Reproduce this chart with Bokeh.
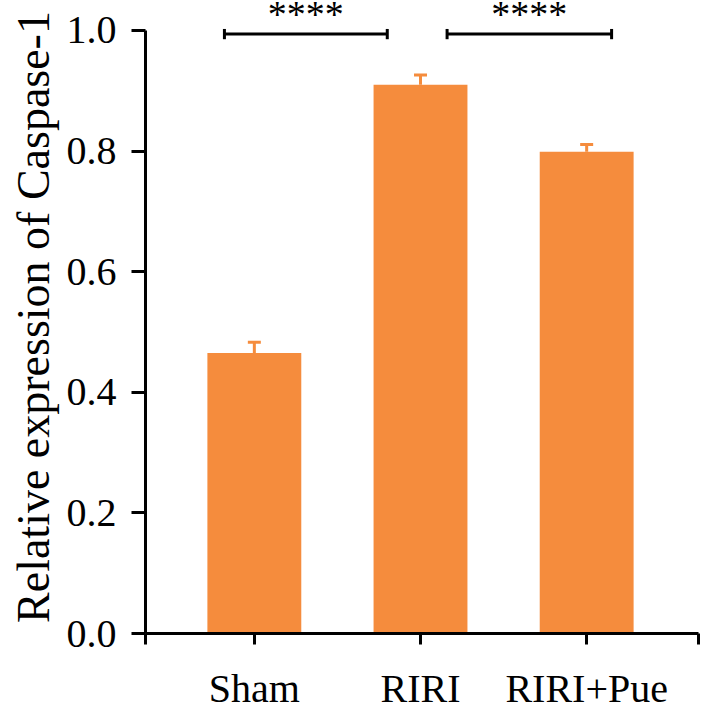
from bokeh.plotting import figure
from bokeh.models import (Range1d, FixedTicker, PrintfTickFormatter, ColumnDataSource,
                          Whisker, TeeHead, Label, Title)
from bokeh.embed import file_html
from bokeh.resources import INLINE

# ---- data ----
groups = ["Sham", "RIRI", "RIRI+Pue"]
means = [0.465, 0.910, 0.799]
errors = [0.018, 0.016, 0.012]
y_ticks = [0.0, 0.2, 0.4, 0.6, 0.8, 1.0]
y_title = "Relative expression of Caspase-1"
sig_labels = ["****", "****"]
sig_spans = [(-0.18, 0.80), (1.16, 2.15)]   # bracket extents in category units
sig_level = 0.994

BAR = "#F58C3D"
FONT = "Liberation Serif"

xs = list(range(len(groups)))
src = ColumnDataSource(dict(x=xs, top=means,
                            upper=[m + e for m, e in zip(means, errors)],
                            lower=means))

X0, X1 = -0.655, 2.673
p = figure(width=703, height=713, output_backend="svg", toolbar_location=None,
           x_range=Range1d(X0, X1), y_range=Range1d(0, 1.0497),
           min_border_left=144, min_border_right=5, min_border_top=0,
           min_border_bottom=79)
p.outline_line_color = None
p.xgrid.visible = False
p.ygrid.visible = False
p.background_fill_color = "white"

p.vbar(x="x", top="top", width=0.565, bottom=0, source=src,
       fill_color=BAR, line_color=None)

w = Whisker(base="x", upper="upper", lower="lower", source=src,
            line_color=BAR, line_width=3,
            upper_head=TeeHead(size=13, line_color=BAR, line_width=3),
            lower_head=None, level="overlay")
p.add_layout(w)

# significance brackets
for (a, b), lab in zip(sig_spans, sig_labels):
    p.segment(x0=[a, a, b], y0=[sig_level, sig_level - 0.0085, sig_level - 0.0085],
              x1=[b, a, b], y1=[sig_level, sig_level + 0.0085, sig_level + 0.0085],
              line_color="black", line_width=3, level="overlay")
    p.add_layout(Label(x=(a + b) / 2, y=1.027, text=lab,
                       text_font=FONT, text_font_size="38px", text_align="center",
                       text_baseline="alphabetic", text_color="black"))

# y axis title
t = Title(text=y_title, align="center", offset=-19, standoff=10,
          text_font=FONT, text_font_size="46px", text_font_style="normal",
          text_color="black")
p.add_layout(t, "left")

# x axis
xa = p.xaxis[0]
xa.ticker = FixedTicker(ticks=xs, minor_ticks=[X0, X1])
xa.major_label_overrides = {i: g for i, g in zip(xs, groups)}
xa.axis_line_width = 3
xa.axis_line_color = "black"
xa.major_tick_line_width = 3
xa.major_tick_in = 0
xa.major_tick_out = 11
xa.minor_tick_line_width = 3
xa.minor_tick_line_color = "black"
xa.minor_tick_in = 0
xa.minor_tick_out = 11
xa.major_label_standoff = 21
xa.major_label_text_font = FONT
xa.major_label_text_font_size = "40px"
xa.major_label_text_color = "black"

# y axis
ya = p.yaxis[0]
ya.ticker = FixedTicker(ticks=y_ticks, minor_ticks=[])
ya.formatter = PrintfTickFormatter(format="%.1f")
ya.bounds = (0, 1.0)
ya.axis_line_width = 3
ya.axis_line_color = "black"
ya.major_tick_line_width = 3
ya.major_tick_in = 0
ya.major_tick_out = 14
ya.minor_tick_line_color = None
ya.major_label_standoff = 15
ya.major_label_text_font = FONT
ya.major_label_text_font_size = "40px"
ya.major_label_text_color = "black"

open("out.html", "w").write(file_html(p, INLINE))
